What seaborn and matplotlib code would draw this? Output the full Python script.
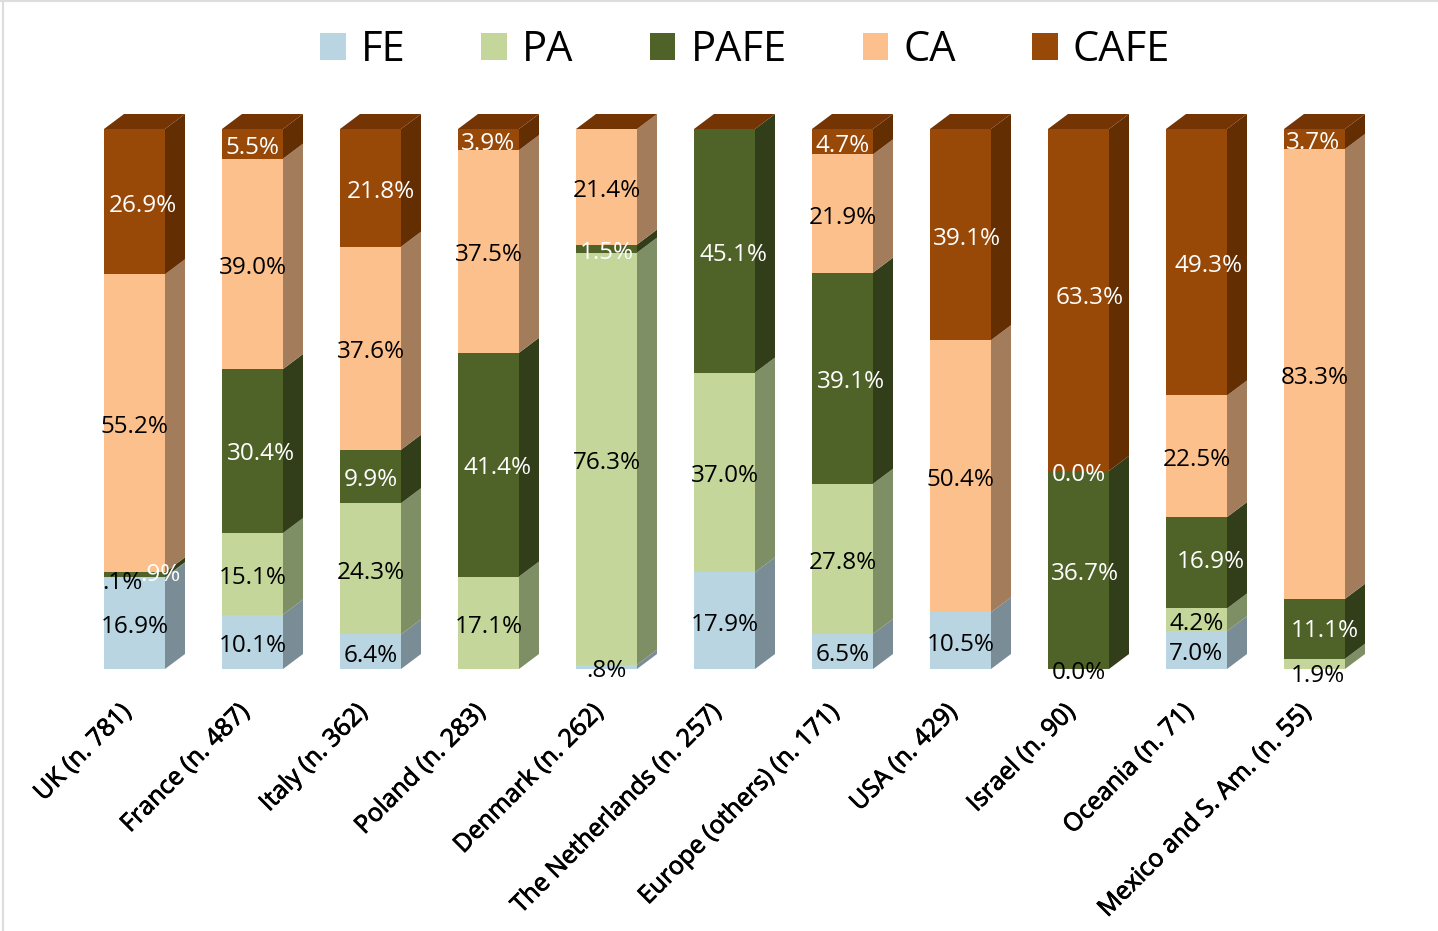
# 100% stacked bars with a fake 3D look, per country
import numpy as np
import pandas as pd
import matplotlib
matplotlib.use('Agg')
import matplotlib.pyplot as plt
import matplotlib.patheffects as pe
import seaborn as sns
from matplotlib.lines import Line2D
from matplotlib.patches import Polygon
from matplotlib.transforms import ScaledTranslation

countries = ['UK (n. 781)', 'France (n. 487)', 'Italy (n. 362)', 'Poland (n. 283)',
             'Denmark (n. 262)', 'The Netherlands (n. 257)', 'Europe (others) (n. 171)',
             'USA (n. 429)', 'Israel (n. 90)', 'Oceania (n. 71)', 'Mexico and S. Am. (n. 55)']
series_names = ['FE', 'PA', 'PAFE', 'CA', 'CAFE']

# nan = no label in the picture, 0.0 = label printed as 0.0%
nan = np.nan
fe = [16.9, 10.1, 6.4, nan, 0.8, 17.9, 6.5, 10.5, 0.0, 7.0, nan]
pa = [0.1, 15.1, 24.3, 17.1, 76.3, 37.0, 27.8, nan, nan, 4.2, 1.9]
pafe = [0.9, 30.4, 9.9, 41.4, 1.5, 45.1, 39.1, nan, 36.7, 16.9, 11.1]
ca = [55.2, 39.0, 37.6, 37.5, 21.4, nan, 21.9, 50.4, 0.0, 22.5, 83.3]
cafe = [26.9, 5.5, 21.8, 3.9, nan, nan, 4.7, 39.1, 63.3, 49.3, 3.7]
series_values = [fe, pa, pafe, ca, cafe]

front_colors = ['#B9D5E2', '#C4D69A', '#4F6228', '#FCC08D', '#984807']
side_colors = ['#7A8C96', '#7F8F65', '#323D19', '#A37C5C', '#632E02']
top_color = '#743403'
label_colors = ['black', 'black', 'white', 'black', 'white']

# manual label nudges in pixels, (country, series): (right, down)
label_nudge = {(0, 1): (-12, 6), (0, 2): (26, 0), (0, 4): (8, 4),
               (1, 2): (8, 3), (2, 4): (10, 4), (3, 2): (9, 3),
               (5, 2): (9, 4), (6, 2): (9, 4), (7, 4): (6, 4),
               (8, 2): (7, 4), (8, 4): (11, -2), (9, 2): (14, -1),
               (9, 4): (12, 4), (10, 1): (3, 12), (10, 2): (10, 2),
               (10, 4): (-1, 4)}

sns.set_theme(style='white')
plt.rcParams['font.family'] = ['Open Sans', 'DejaVu Sans']

fig = plt.figure(figsize=(14.38, 9.31), dpi=100)
W, H = 1438, 931
left_px, step_px, zero_px, full_px = 75.5, 118, 669, 129
ax = fig.add_axes([left_px / W, 1 - zero_px / H, step_px * 11 / W, (zero_px - full_px) / H])

bar_w = 61 / step_px
depth_x = 20 / step_px
depth_y = 15 / ((zero_px - full_px) / 100)

table = np.nan_to_num(np.array(series_values, dtype=float))
table = table / table.sum(axis=0) * 100
bottoms = np.vstack([np.zeros(len(countries)), np.cumsum(table, axis=0)[:-1]])

for s, name in enumerate(series_names):
    df = pd.DataFrame({'country': countries, 'share': table[s]})
    sns.barplot(data=df, x='country', y='share', bottom=bottoms[s], width=bar_w,
                color=front_colors[s], saturation=1, linewidth=0, label=name, ax=ax, zorder=3)

# side and top faces follow the stacked values
for i in range(len(countries)):
    xr = i + bar_w / 2
    for s in range(len(series_names)):
        lo, hi = bottoms[s][i], bottoms[s][i] + table[s][i]
        if hi > lo:
            ax.add_patch(Polygon([(xr, lo), (xr + depth_x, lo + depth_y),
                                  (xr + depth_x, hi + depth_y), (xr, hi)],
                                 facecolor=side_colors[s], edgecolor='none',
                                 clip_on=False, zorder=2))
    ax.add_patch(Polygon([(xr - bar_w, 100), (xr - bar_w + depth_x, 100 + depth_y),
                          (xr + depth_x, 100 + depth_y), (xr, 100)],
                         facecolor=top_color, edgecolor='none', clip_on=False, zorder=2))

for s, values in enumerate(series_values):
    for i, v in enumerate(values):
        if np.isnan(v):
            continue
        text = f'{v:.1f}%'
        if 0 < v < 1:
            text = text[1:]
        dx, dy = label_nudge.get((i, s), (0, 4))
        color = label_colors[s]
        if (i, s) == (8, 3):  # this zero sits on the dark green
            color = 'white'
        ax.annotate(text, (i, bottoms[s][i] + table[s][i] / 2), xytext=(dx * 0.72, -dy * 0.72),
                    textcoords='offset points', ha='center', va='center', fontsize=17.5,
                    color=color, zorder=5, annotation_clip=False)

ax.set_ylim(0, 100)
ax.set_xlim(-0.5, 10.5)
ax.set_xlabel('')
ax.set_ylabel('')
ax.set_yticks([])
ax.set_xticks(range(len(countries)))
ax.set_xticklabels(countries, rotation=45, ha='right', rotation_mode='anchor',
                   fontsize=17.9, color='black')
ax.tick_params(axis='x', length=0, pad=24)
shift = ScaledTranslation(-15.5 / 100, 3 / 100, fig.dpi_scale_trans)
for tick_text in ax.get_xticklabels():
    tick_text.set_transform(tick_text.get_transform() + shift)
    tick_text.set_path_effects([pe.withStroke(linewidth=0.6, foreground='black')])
sns.despine(ax=ax, left=True, bottom=True)
ax.patch.set_alpha(0)

handles, labels = ax.get_legend_handles_labels()
ax.legend(handles, labels, ncol=5, loc='center', bbox_to_anchor=(745 / W, 1 - 50 / H),
          bbox_transform=fig.transFigure, frameon=False, fontsize=30,
          handlelength=0.62, handleheight=0.62, handletextpad=0.36, columnspacing=1.82,
          labelcolor='black')

# light frame left over from the screenshot
fig.add_artist(Line2D([3 / W, 3 / W], [0, 1], color='#DDDDDD', lw=1.5))
fig.add_artist(Line2D([0, 1], [1 - 0.5 / H, 1 - 0.5 / H], color='#DDDDDD', lw=1.5))

fig.savefig('out.png', dpi=100)
